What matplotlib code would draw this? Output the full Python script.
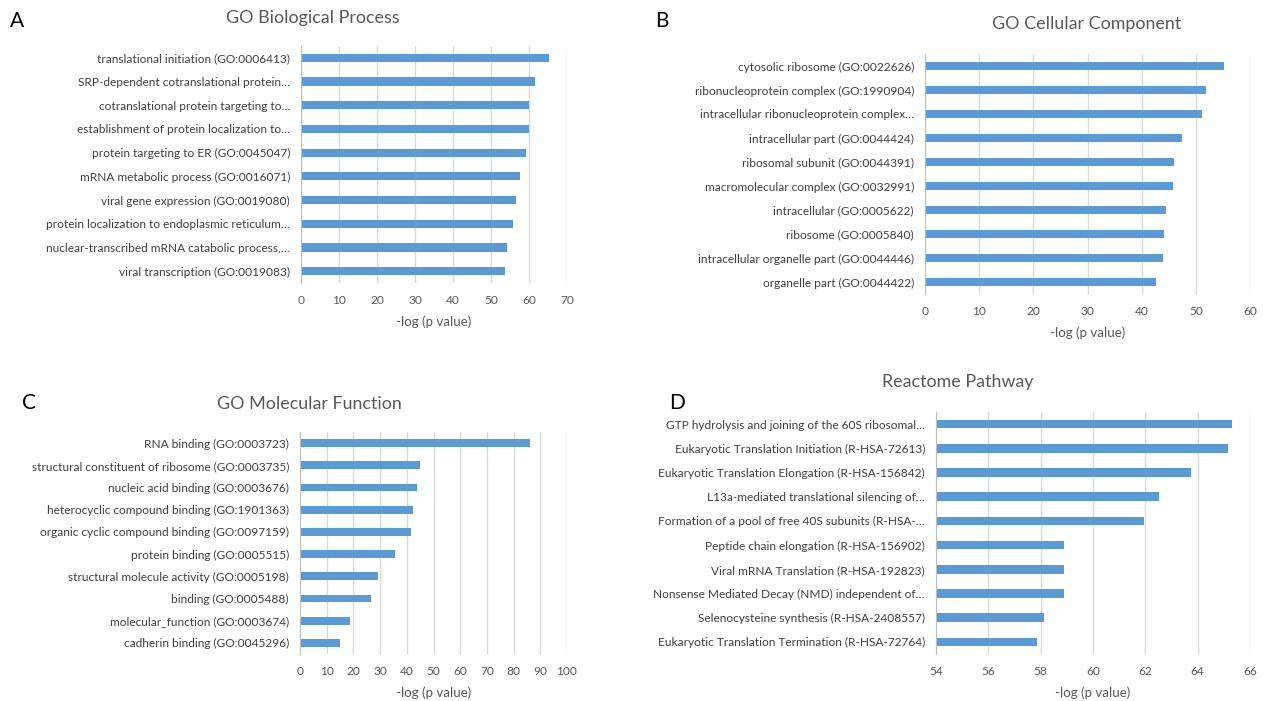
import numpy as np
import matplotlib.pyplot as plt

plt.rcParams['font.family'] = ['Lato', 'DejaVu Sans']

W, H = 1263, 701
BAR = '#5B9BD5'
GRID = '#D9D9D9'
TXT = '#595959'

# GO Biological Process
bp_terms = ['translational initiation (GO:0006413)',
            'SRP-dependent cotranslational protein…',
            'cotranslational protein targeting to…',
            'establishment of protein localization to…',
            'protein targeting to ER (GO:0045047)',
            'mRNA metabolic process (GO:0016071)',
            'viral gene expression (GO:0019080)',
            'protein localization to endoplasmic reticulum…',
            'nuclear-transcribed mRNA catabolic process,…',
            'viral transcription (GO:0019083)']
bp_vals = [65.2, 61.7, 60.1, 59.9, 59.3, 57.5, 56.6, 55.8, 54.2, 53.8]
bp_ticks = [0, 10, 20, 30, 40, 50, 60, 70]

# GO Cellular Component
cc_terms = ['cytosolic ribosome (GO:0022626)',
            'ribonucleoprotein complex (GO:1990904)',
            'intracellular ribonucleoprotein complex…',
            'intracellular part (GO:0044424)',
            'ribosomal subunit (GO:0044391)',
            'macromolecular complex (GO:0032991)',
            'intracellular (GO:0005622)',
            'ribosome (GO:0005840)',
            'intracellular organelle part (GO:0044446)',
            'organelle part (GO:0044422)']
cc_vals = [55.2, 51.9, 51.1, 47.4, 45.9, 45.7, 44.4, 44.2, 43.9, 42.6]
cc_ticks = [0, 10, 20, 30, 40, 50, 60]

# GO Molecular Function
mf_terms = ['RNA binding (GO:0003723)',
            'structural constituent of ribosome (GO:0003735)',
            'nucleic acid binding (GO:0003676)',
            'heterocyclic compound binding (GO:1901363)',
            'organic cyclic compound binding (GO:0097159)',
            'protein binding (GO:0005515)',
            'structural molecule activity (GO:0005198)',
            'binding (GO:0005488)',
            'molecular_function (GO:0003674)',
            'cadherin binding (GO:0045296)']
mf_vals = [86.0, 44.9, 43.9, 42.3, 41.5, 35.7, 29.4, 26.7, 18.7, 15.0]
mf_ticks = [0, 10, 20, 30, 40, 50, 60, 70, 80, 90, 100]

# Reactome Pathway
rp_terms = ['GTP hydrolysis and joining of the 60S ribosomal…',
            'Eukaryotic Translation Initiation (R-HSA-72613)',
            'Eukaryotic Translation Elongation (R-HSA-156842)',
            'L13a-mediated translational silencing of…',
            'Formation of a pool of free 40S subunits (R-HSA-…',
            'Peptide chain elongation (R-HSA-156902)',
            'Viral mRNA Translation (R-HSA-192823)',
            'Nonsense Mediated Decay (NMD) independent of…',
            'Selenocysteine synthesis (R-HSA-2408557)',
            'Eukaryotic Translation Termination (R-HSA-72764)']
rp_vals = [65.3, 65.16, 63.76, 62.53, 61.94, 58.9, 58.9, 58.89, 58.11, 57.85]
rp_ticks = [54, 56, 58, 60, 62, 64, 66]


def panel(fig, box, terms, vals, ticks, title, title_xy, letter, letter_xy):
    x0, x1, y0, y1 = box  # pixel edges of the plot area
    ax = fig.add_axes([x0 / W, 1 - y1 / H, (x1 - x0) / W, (y1 - y0) / H])
    y = np.arange(len(terms))
    ax.barh(y, vals, height=0.35, color=BAR, zorder=3)
    ax.set_yticks(y)
    ax.set_yticklabels(terms, fontsize=8.6, color='#404040')
    ax.set_ylim(len(terms) - 0.5, -0.5)
    ax.set_xlim(ticks[0], ticks[-1])
    ax.set_xticks(ticks)
    ax.tick_params(axis='x', length=0, pad=8.5, labelsize=8.6, labelcolor=TXT)
    ax.tick_params(axis='y', length=0, pad=8)
    ax.grid(axis='x', color=GRID, linewidth=1, zorder=0)
    for s in ['top', 'right', 'bottom']:
        ax.spines[s].set_visible(False)
    ax.spines['left'].set_color('#BFBFBF')
    ax.spines['left'].set_zorder(4)
    ax.set_xlabel('-log (p value)', fontsize=9.6, color=TXT, labelpad=7)
    fig.text(title_xy[0] / W, 1 - title_xy[1] / H, title, fontsize=12.9,
             color=TXT, ha='center', va='center')
    fig.text(letter_xy[0] / W, 1 - letter_xy[1] / H, letter, fontsize=15,
             color='black', ha='center', va='center')
    return ax


fig = plt.figure(figsize=(W / 100, H / 100), dpi=100)

panel(fig, (301, 567, 46, 283), bp_terms, bp_vals, bp_ticks,
      'GO Biological Process', (313, 18), 'A', (17, 21))
panel(fig, (925, 1250, 54, 294), cc_terms, cc_vals, cc_ticks,
      'GO Cellular Component', (1087, 24), 'B', (662, 21))
panel(fig, (300, 567, 432, 654), mf_terms, mf_vals, mf_ticks,
      'GO Molecular Function', (309, 404), 'C', (29, 403))
panel(fig, (936, 1250, 412, 654), rp_terms, rp_vals, rp_ticks,
      'Reactome Pathway', (958, 382), 'D', (677, 403))

fig.savefig('out.png', dpi=100, facecolor='white')
